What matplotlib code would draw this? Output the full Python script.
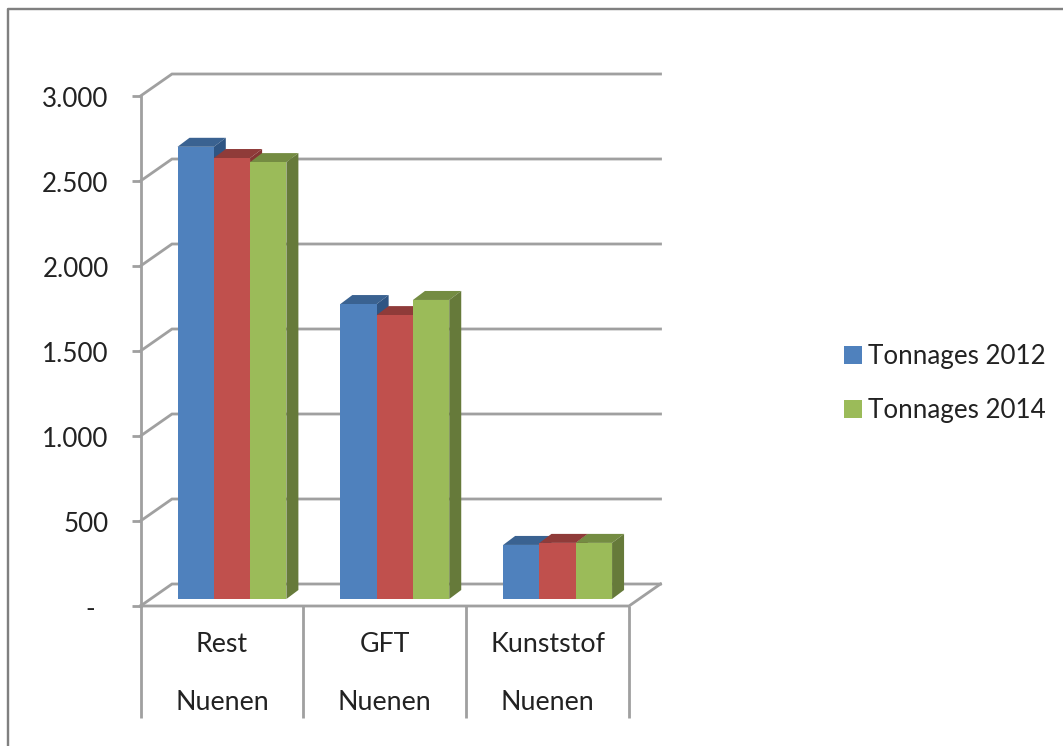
import matplotlib
matplotlib.use('Agg')
import matplotlib.pyplot as plt
from matplotlib.lines import Line2D
from matplotlib.patches import Polygon
from matplotlib.transforms import ScaledTranslation

W, H = 1063, 746
DPI = 100

categories = ['Rest', 'GFT', 'Kunststof']
place = ['Nuenen', 'Nuenen', 'Nuenen']
tonnages_2012 = [2660, 1735, 318]
tonnages_mid = [2594, 1670, 330]
tonnages_2014 = [2570, 1759, 330]
y_ticks = [0, 500, 1000, 1500, 2000, 2500, 3000]
y_labels = ['-  ', '500', '1.000', '1.500', '2.000', '2.500', '3.000']

GREY = '#a0a0a0'
TEXT = '#222222'
PX = 72 / DPI  # one pixel in points
LINE = 2.8 * PX

plt.rcParams['font.family'] = ['Lato', 'DejaVu Sans']

fig = plt.figure(figsize=(W / DPI, H / DPI), dpi=DPI, facecolor='white')
ax = fig.add_axes([140.5 / W, 1 - 606 / H, (629 - 140.5) / W, (606 - 96) / H])
ax.set_xlim(0, 3)
ax.set_ylim(0, 3000)
ax.patch.set_alpha(0)

# pixel sizes turned into data units
x_unit = (629 - 140.5) / 3
y_unit = (606 - 96) / 3000
wall_dx, wall_dy = 31.5 / x_unit, 22 / y_unit
bar_dx, bar_dy = 12 / x_unit, 9 / y_unit
lift = 7 / y_unit
bar_w = 36.3 / x_unit
group_offset = 37 / x_unit

# back wall and floor
for v in y_ticks:
    ax.plot([0, wall_dx, 3 + wall_dx], [v, v + wall_dy, v + wall_dy],
            color=GREY, lw=LINE, clip_on=False, zorder=1, solid_joinstyle='miter')
ax.plot([3 + wall_dx, 3, 0], [wall_dy, 0, 0], color=GREY, lw=LINE, clip_on=False, zorder=1)

series = [
    (tonnages_2012, '#4f81bd', '#3a6291', '#2f5583', 'Tonnages 2012'),
    (tonnages_mid, '#c0504d', '#8f3b39', '#853533', None),
    (tonnages_2014, '#9bbb59', '#748c42', '#667a3a', 'Tonnages 2014'),
]

handles = []
for n, (vals, front, top, side, name) in enumerate(series):
    for i, v in enumerate(vals):
        x0 = i + group_offset + n * bar_w
        x1 = x0 + bar_w
        t = v + lift
        ax.add_patch(Polygon([(x0, t), (x1, t), (x1 + bar_dx, t + bar_dy), (x0 + bar_dx, t + bar_dy)],
                             fc=top, ec='none', clip_on=False, zorder=3 + n))
        ax.add_patch(Polygon([(x1, lift), (x1 + bar_dx, lift + bar_dy), (x1 + bar_dx, t + bar_dy), (x1, t)],
                             fc=side, ec='none', clip_on=False, zorder=3 + n))
    bars = ax.bar([i + group_offset + n * bar_w for i in range(3)], vals, width=bar_w, bottom=lift,
                  align='edge', color=front, linewidth=0, zorder=3.5 + n, label=name)
    if name:
        handles.append(bars)

# axes frame
for s in ['top', 'right', 'bottom']:
    ax.spines[s].set_visible(False)
ax.spines['left'].set_color(GREY)
ax.spines['left'].set_linewidth(LINE)
ax.set_yticks(y_ticks)
ax.set_yticklabels(y_labels)
ax.tick_params(axis='y', length=9 * PX, width=LINE, color=GREY, pad=23 * PX,
               labelsize=26 * PX, labelcolor=TEXT)
nudge = ScaledTranslation(0, -1 / DPI, fig.dpi_scale_trans)
for lab in ax.get_yticklabels():
    lab.set_transform(lab.get_transform() + nudge)
ax.set_xticks([0, 1, 2, 3])
ax.set_xticklabels([])
ax.tick_params(axis='x', length=112 * PX, width=LINE, color=GREY)

for i in range(3):
    ax.annotate(categories[i], (i + 0.5, 0), xytext=(0, -39), textcoords='offset pixels',
                ha='center', va='center', fontsize=26.8 * PX, color=TEXT, annotation_clip=False)
    ax.annotate(place[i], (i + 0.5, 0), xytext=(0, -97), textcoords='offset pixels',
                ha='center', va='center', fontsize=26.8 * PX, color=TEXT, annotation_clip=False)

fig.legend(handles=handles, loc='center left', bbox_to_anchor=(821 / W, 1 - 383.5 / H), frameon=False,
           fontsize=26 * PX, labelcolor=TEXT, handlelength=0.68, handleheight=0.68,
           handletextpad=0.22, labelspacing=1.13)

# outer picture border
fig.add_artist(Line2D([7.5 / W, 7.5 / W, 1], [0, 1 - 8.5 / H, 1 - 8.5 / H], color='#808080', lw=2.4 * PX))

fig.savefig('out.png', dpi=DPI)
